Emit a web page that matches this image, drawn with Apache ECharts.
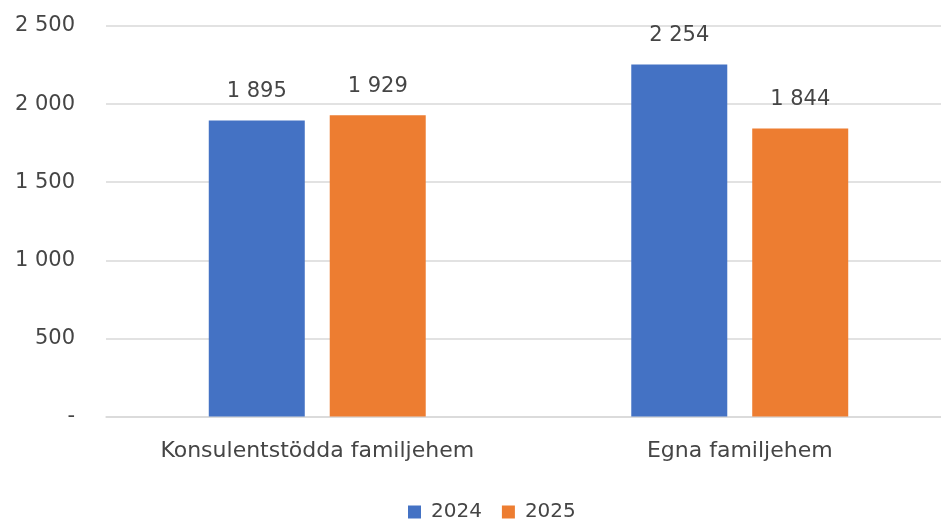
<!DOCTYPE html>
<html><head><meta charset="utf-8">
<script src="https://cdn.jsdelivr.net/npm/echarts@6/dist/echarts.min.js"></script>
<style>html,body{margin:0;padding:0;background:#fff;overflow:hidden}#c{width:951px;height:519px}</style>
</head><body><div id="c"></div>
<script>
const categories = ["Konsulentstödda familjehem", "Egna familjehem"];
const seriesNames = ["2024", "2025"];
const values2024 = [1895, 2254];
const values2025 = [1929, 1844];
const colors = ["#4472C4", "#ED7D31"];

function fmt(v){
  if (v === 0) return "-";
  return String(Math.round(v)).replace(/\B(?=(\d{3})+(?!\d))/g, " ");
}
const txt = {fontFamily: "DejaVu Sans", color: "#454545", fontSize: 21};
const chart = echarts.init(document.getElementById('c'), null, {renderer: 'canvas'});
chart.setOption({
  animation: false,
  color: colors,
  grid: {left: 106, right: 0, top: 26, bottom: 102.5, containLabel: false},
  legend: {
    top: 497, left: 403, itemWidth: 13, itemHeight: 13, itemGap: 20,
    icon: 'rect',
    textStyle: Object.assign({}, txt, {fontSize: 20, padding: [0, 0, 0, 5]}),
    data: seriesNames
  },
  xAxis: {
    type: 'category', data: categories,
    axisLine: {lineStyle: {color: '#D9D9D9', width: 1.5}},
    axisTick: {show: false},
    axisLabel: Object.assign({}, txt, {fontSize: 22, margin: 24})
  },
  yAxis: {
    type: 'value', min: 0, max: 2500, interval: 500,
    axisLine: {show: false}, axisTick: {show: false},
    splitLine: {lineStyle: {color: '#D9D9D9', width: 1.5}},
    axisLabel: Object.assign({}, txt, {margin: 31, formatter: fmt})
  },
  series: [
    {name: seriesNames[0], type: 'bar', data: values2024, barWidth: 96, barGap: '26%',
     label: Object.assign({show: true, position: 'top', distance: 18, formatter: p => fmt(p.value)}, txt)},
    {name: seriesNames[1], type: 'bar', data: values2025, barWidth: 96, barGap: '26%',
     label: Object.assign({show: true, position: 'top', distance: 18, formatter: p => fmt(p.value)}, txt)}
  ]
});
</script></body></html>
